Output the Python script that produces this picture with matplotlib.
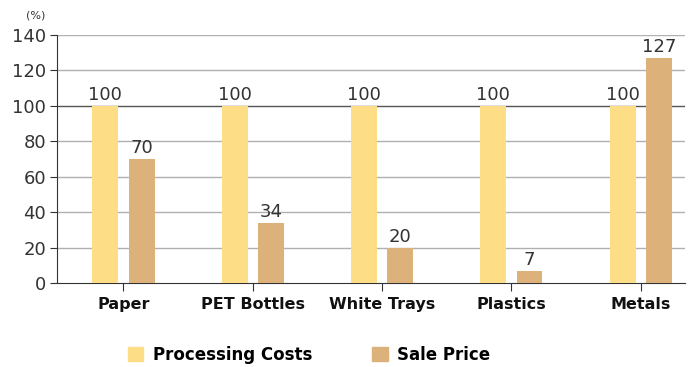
import numpy as np
import matplotlib
matplotlib.use('Agg')
import matplotlib.pyplot as plt
from matplotlib.patches import Patch

categories = ['Paper', 'PET Bottles', 'White Trays', 'Plastics', 'Metals']
processing_costs = [100, 100, 100, 100, 100]
sale_price = [70, 34, 20, 7, 127]
series_names = ['Processing Costs', 'Sale Price']

c_proc = '#FEDD87'
c_sale = '#DDB27A'
txt = '#333333'

plt.rcParams['font.family'] = ['DejaVu Sans']

fig = plt.figure(figsize=(6.95, 3.67), dpi=100)
ax = fig.add_axes([0.082, 0.229, 0.904, 0.676])

x = np.arange(len(categories))
w = 0.2
off = 0.14
b1 = ax.bar(x - off, processing_costs, w, color=c_proc, zorder=3)
b2 = ax.bar(x + off, sale_price, w, color=c_sale, zorder=3)

for rect, v in zip(list(b1) + list(b2), processing_costs + sale_price):
    ax.text(rect.get_x() + rect.get_width() / 2, rect.get_height() + 1, str(v),
            ha='center', va='bottom', fontsize=13, color=txt, zorder=4)

ax.set_ylim(0, 140)
ax.set_xlim(-0.514, 4.344)
ax.set_yticks(np.arange(0, 141, 20))
ax.set_yticklabels([str(v) for v in range(0, 141, 20)], fontsize=13, color=txt)
ax.set_xticks(x)
ax.set_xticklabels(categories, fontsize=11.5, fontweight='bold', color='#111111')
ax.tick_params(axis='x', length=6, color='#333333', pad=4)
ax.tick_params(axis='y', length=5, color='#333333', pad=3)

for yv in range(20, 141, 20):
    ax.axhline(yv, color='#555555' if yv == 100 else '#b0b0b0', lw=1, zorder=1)

for s in ['top', 'right']:
    ax.spines[s].set_visible(False)
ax.spines['left'].set_color('#333333')
ax.spines['bottom'].set_color('#333333')

fig.text(0.051, 0.957, '(%)', fontsize=8, color=txt, ha='center', va='center')

handles = [Patch(color=c_proc), Patch(color=c_sale)]
fig.legend(handles, series_names, loc='center left', bbox_to_anchor=(0.1835, 0.033),
           ncol=2, frameon=False, handlelength=0.95, handleheight=0.95,
           handletextpad=0.55, columnspacing=3.6, borderaxespad=0, borderpad=0,
           prop={'size': 12, 'weight': 'bold'})

fig.savefig('out.png', dpi=100)
